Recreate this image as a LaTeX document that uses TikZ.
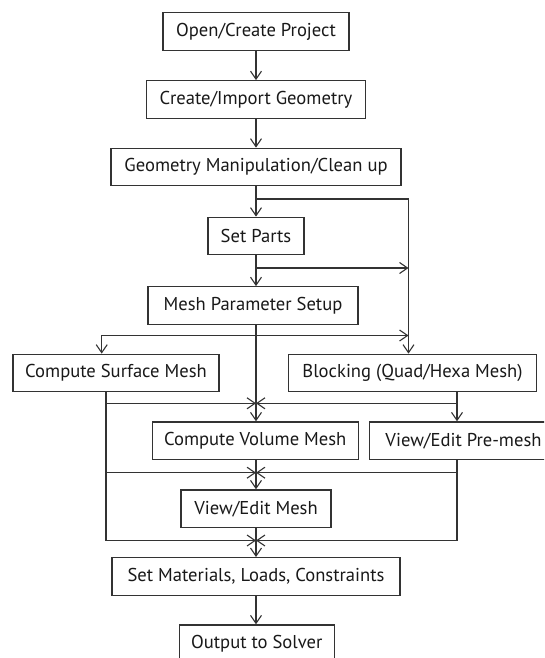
\documentclass[tikz,border=0pt]{standalone}
\usepackage{fontspec}
\setmainfont{PT Sans}
\usetikzlibrary{arrows.meta}
\begin{document}
\begin{tikzpicture}[x=1pt,y=-1pt,
  box/.style={draw=black!80, line width=1.3pt, minimum height=37.5pt, inner sep=0pt,
    font=\fontsize{18.6}{22}\selectfont, text=black!90},
  ln/.style={line width=1.3pt, draw=black!80},
  arr/.style={ln, -{Straight Barb[length=8pt,width=11pt,line width=1.1pt]}}]
\clip (0,0) rectangle (544,658);
\fill[white] (0,0) rectangle (544,658);
% nodes
\node[box, minimum width=186pt] (open) at (256,31.5) {Open/Create Project};
\node[box, minimum width=219.5pt] (create) at (256,99.5) {Create/Import Geometry};
\node[box, minimum width=290pt] (geo) at (256,167) {Geometry Manipulation/Clean up};
\node[box, minimum width=96pt] (parts) at (256,236) {Set Parts};
\node[box, minimum width=210pt] (param) at (253,305.5) {Mesh Parameter Setup};
\node[box, minimum width=206pt] (csm) at (116,373) {Compute Surface Mesh};
\node[box, minimum width=248pt] (block) at (412.5,373) {Blocking (Quad/Hexa Mesh)};
\node[box, minimum width=206pt] (vol) at (255.2,440.7) {Compute Volume Mesh};
\node[box, minimum width=188pt] (pre) at (463.5,440.7) {View/Edit Pre-mesh};
\node[box, minimum width=150pt] (vmesh) at (256,508.7) {View/Edit Mesh};
\node[box, minimum width=288pt] (mat) at (256,576.4) {Set Materials, Loads, Constraints};
\node[box, minimum width=155pt] (out) at (256.8,643.7) {Output to Solver};
% helper coordinates
\coordinate (main) at (256,0);
\coordinate (rbus) at (408.5,0);
\coordinate (lbus) at (106,0);
\coordinate (lin) at (101.7,0);
\coordinate (rb2) at (457,0);
\coordinate (j1) at (256,199);
\coordinate (j2) at (256,268);
\coordinate (j3) at (256,335.5);
\coordinate (j4) at (256,403.3);
\coordinate (j5) at (256,472.7);
\coordinate (j6) at (256,540.5);
% connectors
\draw[arr] (open.south -| main) -- (create.north -| main);
\draw[arr] (create.south -| main) -- (geo.north -| main);
\draw[arr] (geo.south -| main) -- (parts.north -| main);
\draw[arr] (j1) -| (block.north -| rbus);
\draw[arr] (parts.south -| main) -- (param.north -| main);
\draw[arr] (j2) -- (j2 -| rbus);
\draw[arr] (param.south -| main) -- (vol.north -| main);
\draw[arr] (j3) -| (csm.north -| lin);
\draw[arr] (j3) -- (j3 -| rbus);
\draw[arr] (csm.south -| lbus) |- (j6);
\draw[arr] (j4 -| lbus) -- (j4);
\draw[arr] (j5 -| lbus) -- (j5);
\draw[arr] (block.south -| rb2) -- (pre.north -| rb2);
\draw[arr] (j4 -| rb2) -- (j4);
\draw[arr] (pre.south -| rb2) |- (j6);
\draw[arr] (j5 -| rb2) -- (j5);
\draw[arr] (vol.south -| main) -- (vmesh.north -| main);
\draw[arr] (vmesh.south -| main) -- (mat.north -| main);
\draw[arr] (mat.south -| main) -- (out.north -| main);
\end{tikzpicture}
\end{document}
